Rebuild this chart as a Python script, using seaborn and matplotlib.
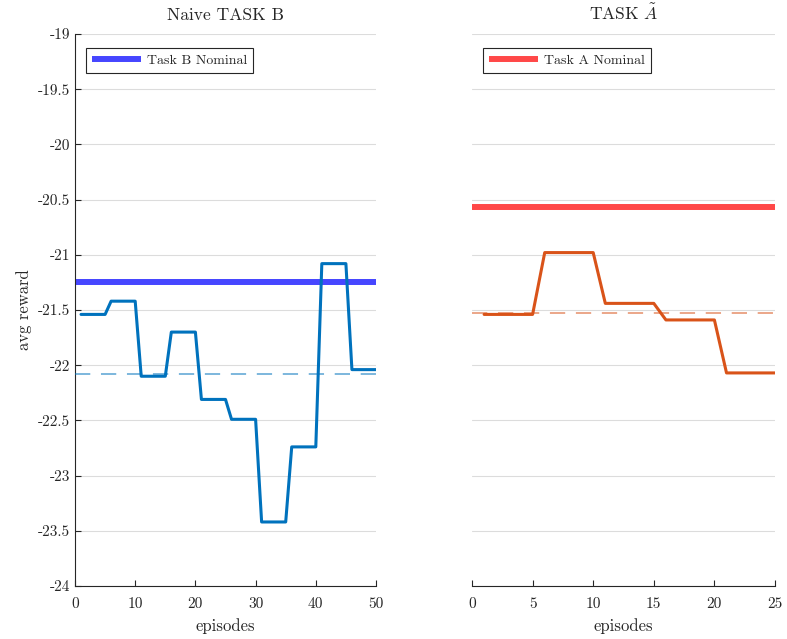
import numpy as np
import pandas as pd
import seaborn as sns
import matplotlib.pyplot as plt

# per-episode rewards, each level held for 5 episodes
b_levels = [-21.54, -21.42, -22.10, -21.70, -22.31, -22.49, -23.42, -22.74, -21.08, -22.04]
a_levels = [-21.54, -20.98, -21.44, -21.59, -22.07]
b_nominal = -21.245
a_nominal = -20.563

b_episodes = list(range(1, 51))
a_episodes = list(range(1, 26))
b_reward = [v for v in b_levels for _ in range(5)]
a_reward = [v for v in a_levels for _ in range(5)]

y_ticks = [-19, -19.5, -20, -20.5, -21, -21.5, -22, -22.5, -23, -23.5, -24]
y_ticklabels = ['-19', '-19.5', '-20', '-20.5', '-21', '-21.5', '-22', '-22.5', '-23', '-23.5', '-24']

sns.set_style("white")
plt.rcParams['font.family'] = ['cmr10', 'DejaVu Serif']
plt.rcParams['mathtext.fontset'] = 'cm'
plt.rcParams['axes.unicode_minus'] = False
plt.rcParams['axes.formatter.use_mathtext'] = True

df_b = pd.DataFrame({'episodes': b_episodes, 'reward': b_reward})
df_a = pd.DataFrame({'episodes': a_episodes, 'reward': a_reward})

fig = plt.figure(figsize=(7.87, 6.39), dpi=100)
ax1 = fig.add_axes([75 / 787, 1 - 586 / 639, 301 / 787, 552 / 639])
ax2 = fig.add_axes([472 / 787, 1 - 586 / 639, 303 / 787, 552 / 639])

spine_col = '#262626'
grid_col = '#dcdcdc'


def style_axis(ax, xmax, xticks, show_left):
    ax.set_xlim(0, xmax)
    ax.set_ylim(-24, -19)
    ax.set_yticks(y_ticks)
    ax.set_xticks(xticks)
    ax.set_xticklabels([str(t) for t in xticks])
    ax.yaxis.grid(True, color=grid_col, linewidth=0.8)
    ax.xaxis.grid(False)
    ax.set_axisbelow(True)
    for s in ['top', 'right']:
        ax.spines[s].set_visible(False)
    ax.spines['bottom'].set_color(spine_col)
    ax.spines['bottom'].set_linewidth(0.8)
    if show_left:
        ax.spines['left'].set_color(spine_col)
        ax.spines['left'].set_linewidth(0.8)
        ax.set_yticklabels(y_ticklabels)
        ax.tick_params(axis='y', direction='in', length=4, colors=spine_col, labelsize=11, left=True)
    else:
        ax.spines['left'].set_visible(False)
        ax.tick_params(axis='y', left=False, labelleft=False)
    ax.tick_params(axis='x', direction='in', length=4, colors=spine_col, labelsize=11, bottom=True, pad=8)
    ax.set_xlabel('episodes', fontsize=12, color=spine_col, labelpad=5)


# left panel
ax1.axhline(b_nominal, color='#4646ff', linewidth=4.3, solid_capstyle='butt',
            label='Task B Nominal', zorder=2)
sns.lineplot(data=df_b, x='episodes', y='reward', ax=ax1, color='#0072bd', linewidth=2.2, zorder=3)
ax1.axhline(np.mean(b_reward), color='#0072bd', alpha=0.65, linewidth=1.1, dashes=(10, 7), zorder=3)
style_axis(ax1, 50, [0, 10, 20, 30, 40, 50], True)
ax1.set_ylabel('avg reward', fontsize=12, color=spine_col, labelpad=4)
ax1.set_title('Naive TASK B', fontsize=12.6, color=spine_col, pad=10)

# right panel
ax2.axhline(a_nominal, color='#ff4848', linewidth=4.3, solid_capstyle='butt',
            label='Task A Nominal', zorder=2)
sns.lineplot(data=df_a, x='episodes', y='reward', ax=ax2, color='#d95319', linewidth=2.2, zorder=3)
ax2.axhline(np.mean(a_reward), color='#d95319', alpha=0.65, linewidth=1.1, dashes=(10, 7), zorder=3)
style_axis(ax2, 25, [0, 5, 10, 15, 20, 25], False)
ax2.set_ylabel('')
ax2.set_title(r'TASK $\tilde{A}$', fontsize=12.6, color=spine_col, pad=10)

for ax in [ax1, ax2]:
    handles, labels = ax.get_legend_handles_labels()
    leg = ax.legend(handles[:1], labels[:1], loc='upper left', bbox_to_anchor=(0.037, 0.975),
                    fontsize=10, fancybox=False, framealpha=1, edgecolor=spine_col,
                    handlelength=3.5, borderpad=0.45, handletextpad=0.4, borderaxespad=0)
    leg.get_frame().set_linewidth(0.8)

fig.savefig('out.png', dpi=100)
